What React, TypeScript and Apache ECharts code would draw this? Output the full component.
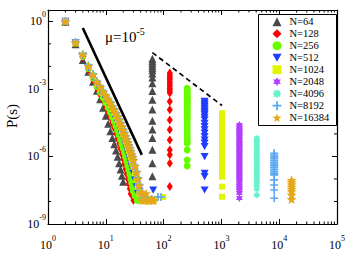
import React, { useEffect, useRef } from 'react';
import * as echarts from 'echarts';

const FONT = "'Liberation Serif', 'DejaVu Serif', 'Times New Roman', serif";

// ---------------- data ----------------
const seriesNames = ['N=64', 'N=128', 'N=256', 'N=512', 'N=1024', 'N=2048', 'N=4096', 'N=8192', 'N=16384'];
const systemSizes = [64, 128, 256, 512, 1024, 2048, 4096, 8192, 16384];

// avalanche sizes of the power-law part
const powerLawS = [2, 3, 4, 5, 6, 7, 8, 9, 10, 11, 12, 13, 14, 15, 16, 17, 18, 19, 20, 21, 22, 23, 24, 25, 26, 27, 28, 29, 30, 32, 34, 36, 38, 40];

// log10 P(s) for the power-law part (one entry per powerLawS value, truncated)
const powerLawExp64 = [-0.02, -1.02, -1.72, -2.24, -2.68, -3.08, -3.46, -3.84, -4.2, -4.55, -4.88, -5.18, -5.46, -5.74, -6.02, -6.3, -6.58, -6.86, -7.12];
const powerLawExp128 = [-0.01, -0.99, -1.6, -2.15, -2.58, -2.96, -3.26, -3.53, -3.79, -4.04, -4.28, -4.52, -4.75, -4.98, -5.21, -5.44, -5.67, -5.9, -6.12, -6.34, -6.56, -6.78, -7.0, -7.22, -7.44, -7.66];
const powerLawExp256 = [0, -0.97, -1.56, -2.1, -2.52, -2.88, -3.15, -3.39, -3.62, -3.84, -4.05, -4.26, -4.46, -4.66, -4.86, -5.06, -5.26, -5.46, -5.65, -5.84, -6.03, -6.22, -6.41, -6.6, -6.79, -6.98, -7.17, -7.36, -7.55];
const powerLawExp512 = [0, -0.96, -1.53, -2.06, -2.46, -2.8, -3.05, -3.27, -3.47, -3.66, -3.84, -4.02, -4.2, -4.37, -4.54, -4.71, -4.88, -5.05, -5.21, -5.37, -5.53, -5.69, -5.85, -6.0, -6.15, -6.3, -6.45, -6.6, -6.75, -7.05, -7.35, -7.65];
const powerLawExp1024 = [0, -0.95, -1.51, -2.03, -2.42, -2.75, -2.98, -3.19, -3.38, -3.56, -3.73, -3.9, -4.07, -4.23, -4.39, -4.55, -4.71, -4.87, -5.02, -5.17, -5.32, -5.47, -5.62, -5.76, -5.9, -6.04, -6.18, -6.32, -6.46, -6.74, -7.04, -7.34, -7.64];
const powerLawExp2048 = [0, -0.94, -1.5, -2.01, -2.39, -2.71, -2.94, -3.14, -3.32, -3.49, -3.65, -3.81, -3.97, -4.12, -4.27, -4.42, -4.57, -4.72, -4.86, -5.0, -5.14, -5.28, -5.42, -5.55, -5.68, -5.81, -5.94, -6.07, -6.2, -6.46, -6.74, -7.02, -7.32, -7.62];
const powerLawExp4096 = [0, -0.93, -1.47, -1.97, -2.35, -2.67, -2.89, -3.09, -3.27, -3.44, -3.6, -3.76, -3.92, -4.07, -4.22, -4.37, -4.52, -4.67, -4.81, -4.95, -5.09, -5.23, -5.37, -5.5, -5.63, -5.76, -5.89, -6.02, -6.15, -6.41, -6.69, -6.97, -7.27, -7.57];
const powerLawExp8192 = [0, -0.92, -1.46, -1.96, -2.34, -2.66, -2.88, -3.08, -3.26, -3.43, -3.59, -3.75, -3.9, -4.05, -4.2, -4.35, -4.5, -4.65, -4.79, -4.93, -5.07, -5.21, -5.35, -5.48, -5.61, -5.74, -5.87, -6.0, -6.13, -6.39, -6.67, -6.95, -7.25, -7.55];
const powerLawExp16384 = [0, -0.94, -1.49, -2.0, -2.38, -2.7, -2.92, -3.12, -3.3, -3.47, -3.63, -3.79, -3.95, -4.1, -4.25, -4.4, -4.55, -4.7, -4.84, -4.98, -5.12, -5.26, -5.4, -5.53, -5.66, -5.79, -5.92, -6.05, -6.18, -6.44, -6.72, -7.0, -7.3, -7.6];

// sparse low-probability points after the power-law part
const floorS64: number[] = [];
const floorExp64: number[] = [];
const floorS128 = [28, 30];
const floorExp128 = [-7.7, -7.95];
const floorS256 = [32, 35];
const floorExp256 = [-7.75, -7.95];
const floorS512 = [38, 42, 66];
const floorExp512 = [-7.55, -7.85, -7.5];
const floorS1024 = [40, 45, 55, 70, 99];
const floorExp1024 = [-7.7, -7.9, -7.9, -7.9, -7.8];
const floorS2048 = [42, 48, 55];
const floorExp2048 = [-7.9, -7.9, -7.9];
const floorS4096 = [43, 50, 58];
const floorExp4096 = [-7.9, -7.9, -7.9];
const floorS8192 = [44, 52, 62, 80, 90];
const floorExp8192 = [-7.9, -7.9, -7.9, -7.8, -7.8];
const floorS16384 = [42, 44, 46, 48, 50, 53, 56, 60, 64, 68];
const floorExp16384 = [-7.95, -7.65, -7.95, -7.95, -7.65, -7.95, -7.95, -7.95, -7.95, -7.95];

// log10 P at s = N (system-spanning avalanches)
const columnExp64 = [-1.66, -1.76, -1.86, -1.96, -2.06, -2.18, -2.32, -2.5, -2.75, -3.1, -3.48, -3.92, -4.42, -4.8, -5.18, -5.7, -6.3, -6.88];
const columnExp128 = [-2.3, -2.38, -2.45, -2.53, -2.6, -2.68, -2.75, -2.83, -2.9, -2.97, -3.04, -3.12, -3.19, -3.56, -3.93, -4.38, -4.82, -5.27, -5.71, -5.93, -6.3, -7.34];
const columnExp256 = [-2.97, -3.08, -3.19, -3.27, -3.34, -3.42, -3.49, -3.57, -3.64, -3.75, -3.86, -3.93, -4.01, -4.12, -4.23, -4.34, -4.45, -4.6, -4.75, -4.9, -5.04, -5.19, -5.3, -5.41, -5.71, -6.16, -6.42];
const columnExp512 = [-3.56, -3.63, -3.71, -3.78, -3.86, -3.93, -4.01, -4.08, -4.16, -4.27, -4.38, -4.53, -4.68, -4.82, -4.97, -5.12, -5.27, -5.41, -5.56, -6.01, -6.75, -6.9, -7.49];
const columnExp1024 = [-4.08, -4.16, -4.24, -4.32, -4.4, -4.48, -4.56, -4.64, -4.72, -4.8, -4.88, -4.96, -5.04, -5.12, -5.2, -5.28, -5.36, -5.44, -5.52, -5.6, -5.68, -5.76, -5.84, -5.92, -6.0, -6.1, -6.2, -6.3, -6.4, -6.5, -6.7, -6.9, -7.34, -7.79];
const columnExp2048 = [-4.6, -4.68, -4.76, -4.84, -4.92, -5.0, -5.08, -5.16, -5.24, -5.32, -5.4, -5.48, -5.56, -5.64, -5.72, -5.8, -5.88, -5.96, -6.04, -6.12, -6.2, -6.28, -6.36, -6.44, -6.52, -6.6, -6.68, -6.76, -6.84, -6.92, -7.0, -7.1, -7.2, -7.3, -7.4, -7.5, -7.62, -7.85];
const columnExp4096 = [-5.19, -5.27, -5.35, -5.43, -5.51, -5.59, -5.67, -5.75, -5.83, -5.91, -5.99, -6.07, -6.15, -6.23, -6.31, -6.39, -6.47, -6.55, -6.63, -6.71, -6.79, -6.87, -6.95, -7.03, -7.11, -7.2, -7.3, -7.45, -7.71];
const columnExp8192 = [-5.86, -5.94, -6.02, -6.1, -6.18, -6.26, -6.34, -6.42, -6.5, -6.58, -6.66, -6.74, -6.82, -7.04, -7.27, -7.49, -7.86];
const columnExp16384 = [-7.05, -7.15, -7.25, -7.35, -7.45, -7.55, -7.7, -7.9];

// reference lines
const fitLineS = [4, 42];
const fitLineExp = [-0.3, -5.93];
const envelopeS = [64, 1024];
const envelopeExp = [-1.39, -3.74];

// axes
const xMinExp = 0;
const xMaxExp = 5;
const yMinExp = -9;
const yMaxExp = 0.5;
const xMinorTickValues = [2, 3, 4, 5, 6, 7, 8, 9, 20, 30, 40, 50, 60, 70, 80, 90, 200, 300, 400, 500, 600, 700, 800, 900, 2000, 3000, 4000, 5000, 6000, 7000, 8000, 9000, 20000, 30000, 40000, 50000, 60000, 70000, 80000, 90000];
const yMinorTickExps = [-8, -7, -5, -4, -2, -1];

// ---------------- styles ----------------
function starPath(n: number, inner: number) {
  const pts: string[] = [];
  for (let i = 0; i < 2 * n; i++) {
    const r = i % 2 === 0 ? 10 : 10 * inner;
    const a = -Math.PI / 2 + (i * Math.PI) / n;
    pts.push(`${(10 + r * Math.cos(a)).toFixed(2)},${(10 + r * Math.sin(a)).toFixed(2)}`);
  }
  return 'path://M' + pts.join('L') + 'Z';
}

const seriesStyles = [
  { color: '#4a4a4a', symbol: 'triangle', size: [8, 8] },
  { color: '#ff0000', symbol: 'diamond', size: [6, 9] },
  { color: '#66ff00', symbol: 'circle', size: 7 },
  { color: '#1f3dff', symbol: 'path://M0,0L10,0L5,9Z', size: 8 },
  { color: '#e2f500', symbol: 'rect', size: 6 },
  { color: '#b23cff', symbol: starPath(6, 0.55), size: 8 },
  { color: '#6af2cc', symbol: starPath(8, 0.7), size: 7 },
  { color: '#5aa8f5', symbol: 'path://M4,0h2v4h4v2h-4v4h-2v-4h-4v-2h4z', size: 8 },
  { color: '#e6a817', symbol: starPath(5, 0.42), size: 10 },
];

const powerLawExps = [powerLawExp64, powerLawExp128, powerLawExp256, powerLawExp512, powerLawExp1024, powerLawExp2048, powerLawExp4096, powerLawExp8192, powerLawExp16384];
const floorSs = [floorS64, floorS128, floorS256, floorS512, floorS1024, floorS2048, floorS4096, floorS8192, floorS16384];
const floorExps = [floorExp64, floorExp128, floorExp256, floorExp512, floorExp1024, floorExp2048, floorExp4096, floorExp8192, floorExp16384];
const columnExps = [columnExp64, columnExp128, columnExp256, columnExp512, columnExp1024, columnExp2048, columnExp4096, columnExp8192, columnExp16384];

function buildSeriesData(i: number) {
  const pts: number[][] = [];
  powerLawExps[i].forEach((e, k) => pts.push([Math.log10(powerLawS[k]), e]));
  floorSs[i].forEach((s, k) => pts.push([Math.log10(s), floorExps[i][k]]));
  columnExps[i].forEach((e) => pts.push([Math.log10(systemSizes[i]), e]));
  return pts;
}

const richLabel = {
  a: { fontSize: 12, fontFamily: FONT, color: '#000' },
  b: { fontSize: 8, fontFamily: FONT, color: '#000', padding: [0, 0, 13, 0] },
};

const frameLine = { show: true, onZero: false, lineStyle: { color: '#000', width: 1.2 } };

export default function App() {
  const ref = useRef<HTMLDivElement>(null);
  useEffect(() => {
    if (!ref.current) return;
    const chart = echarts.init(ref.current, undefined, { renderer: 'svg' });

    const scatterSeries = seriesNames.map((name, i) => ({
      name,
      type: 'scatter',
      data: buildSeriesData(i),
      symbol: seriesStyles[i].symbol,
      symbolSize: seriesStyles[i].size,
      symbolKeepAspect: true,
      itemStyle: { color: seriesStyles[i].color, opacity: 1 },
      silent: true,
      z: 2,
    }));

    const tickData: number[][] = [];
    xMinorTickValues.forEach((v) => tickData.push([0, Math.log10(v)]));
    yMinorTickExps.forEach((v) => tickData.push([1, v]));

    const option: any = {
      animation: false,
      backgroundColor: '#ffffff',
      grid: { left: 48, right: 12, top: 10, bottom: 30, containLabel: false, outerBoundsMode: 'none' },
      xAxis: [
        {
          type: 'value', min: xMinExp, max: xMaxExp, interval: 1, position: 'bottom',
          axisLine: frameLine,
          axisTick: { show: true, inside: true, length: 5, lineStyle: { color: '#000', width: 1 } },
          axisLabel: {
            show: true, margin: 10, rich: richLabel,
            formatter: (v: number) => (Number.isInteger(v) ? `{a|10}{b|${v}}` : ''),
          },
          splitLine: { show: false },
        },
        {
          type: 'value', min: xMinExp, max: xMaxExp, interval: 1, position: 'top',
          axisLine: frameLine,
          axisTick: { show: true, inside: true, length: 5, lineStyle: { color: '#000', width: 1 } },
          axisLabel: { show: false },
          splitLine: { show: false },
        },
      ],
      yAxis: [
        {
          type: 'value', min: yMinExp, max: yMaxExp, interval: 3, position: 'left',
          axisLine: frameLine,
          axisTick: { show: true, inside: true, length: 5, lineStyle: { color: '#000', width: 1 } },
          axisLabel: {
            show: true, margin: 2, rich: richLabel, showMaxLabel: false,
            formatter: (v: number) => (Number.isInteger(v) && v % 3 === 0 ? `{a|10}{b|${v}}` : ''),
          },
          splitLine: { show: false },
        },
        {
          type: 'value', min: yMinExp, max: yMaxExp, interval: 3, position: 'right',
          axisLine: frameLine,
          axisTick: { show: true, inside: true, length: 5, lineStyle: { color: '#000', width: 1 } },
          axisLabel: { show: false },
          splitLine: { show: false },
        },
      ],
      legend: {
        data: seriesNames,
        orient: 'vertical',
        left: 272.5,
        top: 15.7,
        padding: 0,
        itemGap: 0,
        itemWidth: 9,
        itemHeight: 9,
        selectedMode: false,
        textStyle: { fontFamily: FONT, fontSize: 10.5, color: '#000', lineHeight: 12, padding: [0, 0, 0, 3] },
        z: 10,
      },
      graphic: [
        {
          type: 'rect', z: 5,
          shape: { x: 258.5, y: 14.5, width: 78, height: 111 },
          style: { fill: '#fff', stroke: '#000', lineWidth: 1 },
        },
        {
          type: 'text', x: 12, y: 116, rotation: Math.PI / 2,
          style: { text: 'P(s)', fontFamily: FONT, fontSize: 15, fill: '#000', align: 'center', verticalAlign: 'middle' },
        },
        {
          type: 'text', x: 105, y: 37,
          style: {
            text: '{a|μ=10}{b|-5}',
            rich: {
              a: { fontSize: 15, fontFamily: FONT, fill: '#000' },
              b: { fontSize: 10, fontFamily: FONT, fill: '#000', padding: [0, 0, 12, 0] },
            },
            fill: '#000', verticalAlign: 'middle',
          },
        },
      ],
      series: [
        ...scatterSeries,
        {
          type: 'line', name: 'fit', silent: true, symbol: 'none', z: 3,
          data: fitLineS.map((s, i) => [Math.log10(s), fitLineExp[i]]),
          lineStyle: { color: '#000', width: 2.6 },
        },
        {
          type: 'line', name: 'envelope', silent: true, symbol: 'none', z: 3,
          data: envelopeS.map((s, i) => [Math.log10(s), envelopeExp[i]]),
          lineStyle: { color: '#000', width: 1.7, type: [5, 3.5] },
        },
        {
          type: 'custom', name: 'minorTicks', silent: true, clip: false, z: 4,
          data: tickData,
          renderItem: (params: any, api: any) => {
            const kind = api.value(0);
            const v = api.value(1);
            const st = { stroke: '#000', lineWidth: 1 };
            if (kind === 0) {
              const b = api.coord([v, yMinExp]);
              const t = api.coord([v, yMaxExp]);
              return {
                type: 'group',
                children: [
                  { type: 'line', shape: { x1: b[0], y1: b[1], x2: b[0], y2: b[1] - 2.5 }, style: st },
                  { type: 'line', shape: { x1: t[0], y1: t[1], x2: t[0], y2: t[1] + 2.5 }, style: st },
                ],
              };
            }
            const l = api.coord([xMinExp, v]);
            const r = api.coord([xMaxExp, v]);
            return {
              type: 'group',
              children: [
                { type: 'line', shape: { x1: l[0], y1: l[1], x2: l[0] + 3, y2: l[1] }, style: st },
                { type: 'line', shape: { x1: r[0], y1: r[1], x2: r[0] - 3, y2: r[1] }, style: st },
              ],
            };
          },
        },
      ],
    };
    chart.setOption(option);
    return () => chart.dispose();
  }, []);
  return <div ref={ref} style={{ position: 'fixed', left: 0, top: 0, width: 349, height: 254, background: '#fff' }} />;
}
